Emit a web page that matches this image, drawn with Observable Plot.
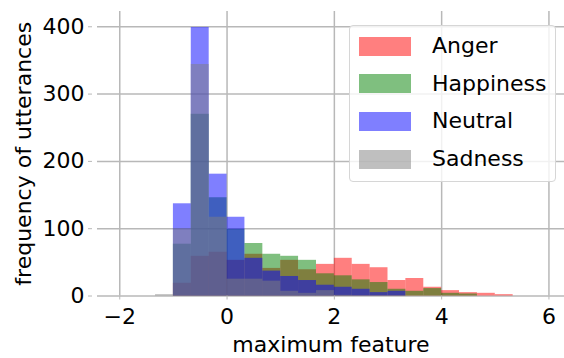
<!DOCTYPE html>
<html>
<head>
<meta charset="utf-8">
<script src="https://cdn.jsdelivr.net/npm/d3@7"></script>
<script src="https://cdn.jsdelivr.net/npm/@observablehq/plot@0.6"></script>
<style>
  html, body { margin: 0; padding: 0; background: #fff; }
  #wrap { position: relative; width: 564px; height: 358px; font-family: "DejaVu Sans", sans-serif; }
  #legend { position: absolute; left: 349px; top: 25px; width: 207px; height: 157px;
    border: 1px solid #d6d6d6; border-radius: 4px; background: rgba(255,255,255,0.8); box-sizing: border-box; }
  .item { position: absolute; left: 0; height: 38px; display: flex; align-items: center; }
  .sw { position: absolute; left: 9px; width: 52px; height: 19px; }
  .lbl { position: absolute; left: 82px; font-size: 22px; color: #000; white-space: nowrap; line-height: 22px; }
</style>
</head>
<body>
<div id="wrap"></div>
<script>
// bin edges (x = maximum feature)
const binLeft  = [-1.333, -1, -0.667, -0.333, 0, 0.333, 0.667, 1, 1.333, 1.667, 2, 2.333, 2.667, 3, 3.333, 3.667, 4, 4.333, 4.667, 5];
const binRight = [-1, -0.667, -0.333, 0, 0.333, 0.667, 1, 1.333, 1.667, 2, 2.333, 2.667, 3, 3.333, 3.667, 4, 4.333, 4.667, 5, 5.333];

// frequency of utterances per bin
const anger     = [0, 19, 59, 65, 53, 62, 41, 53, 39, 47, 56, 47, 42, 23, 26, 13, 8, 5, 4, 2];
const happiness = [0, 77, 270, 146, 99, 78, 62, 59, 53, 33, 30, 24, 20, 10, 7, 11, 4, 3, 0, 0];
const neutral   = [0, 137, 399, 181, 117, 56, 37, 29, 23, 16, 13, 10, 5, 7, 0, 0, 0, 0, 0, 0];
const sadness   = [2, 100, 344, 117, 25, 25, 22, 7, 4, 8, 1, 0, 0, 0, 0, 0, 0, 0, 0, 0];

const seriesNames  = ["Anger", "Happiness", "Neutral", "Sadness"];
const seriesColors = ["#ff0000", "#008000", "#0000ff", "#808080"];
const seriesValues = [anger, happiness, neutral, sadness];

const xTicks = [-2, 0, 2, 4, 6];
const yTicks = [0, 100, 200, 300, 400];

const font = "DejaVu Sans, sans-serif";

const marks = [];
seriesNames.forEach((name, i) => {
  const rows = seriesValues[i].map((v, j) => ({x1: binLeft[j], x2: binRight[j], y: v}));
  marks.push(Plot.rectY(rows, {x1: "x1", x2: "x2", y: "y", fill: seriesColors[i], fillOpacity: 0.5}));
});

const chart = Plot.plot({
  width: 564,
  height: 358,
  marginLeft: 97,
  marginRight: 0,
  marginTop: 11,
  marginBottom: 62.5,
  style: {fontFamily: font, fontSize: "22px", color: "#000", background: "#fff"},
  x: {domain: [-2.415, 6.29], ticks: xTicks},
  y: {domain: [0, 422.7], ticks: yTicks},
  marks: [
    Plot.gridX(xTicks, {stroke: "#b8b8b8", strokeOpacity: 1, strokeWidth: 1.5}),
    Plot.gridY(yTicks, {stroke: "#b8b8b8", strokeOpacity: 1, strokeWidth: 1.5}),
    ...marks,
    Plot.axisX(xTicks, {tickSize: 4, tickPadding: 8, stroke: "#b8b8b8", fill: "#000", fontSize: 22,
      tickFormat: d => d < 0 ? "\u2212" + Math.abs(d) : String(d),
      label: "maximum feature", labelAnchor: "center", labelOffset: 56, labelArrow: "none"}),
    Plot.axisY(yTicks, {tickSize: 4, tickPadding: 4, dx: -5, stroke: "#b8b8b8", fill: "#000", fontSize: 22,
      label: "frequency of utterances", labelAnchor: "center", labelOffset: 82, labelArrow: "none"})
  ]
});

const wrap = document.getElementById("wrap");
wrap.appendChild(chart);

const legend = document.createElement("div");
legend.id = "legend";
seriesNames.forEach((name, i) => {
  const item = document.createElement("div");
  item.className = "item";
  item.style.top = (1 + i * 37.7) + "px";
  item.style.width = "100%";
  const sw = document.createElement("div");
  sw.className = "sw";
  sw.style.background = seriesColors[i];
  sw.style.opacity = 0.5;
  const lbl = document.createElement("div");
  lbl.className = "lbl";
  lbl.textContent = name;
  item.appendChild(sw);
  item.appendChild(lbl);
  legend.appendChild(item);
});
wrap.appendChild(legend);
</script>
</body>
</html>
